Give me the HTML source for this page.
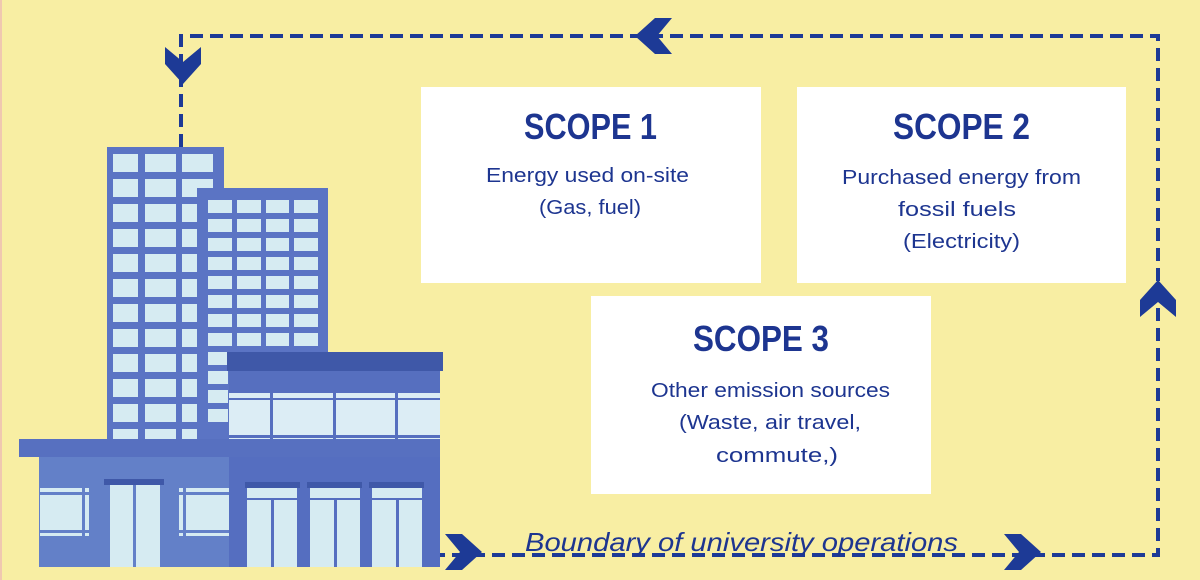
<!DOCTYPE html>
<html><head><meta charset="utf-8"><style>
html,body{margin:0;padding:0;background:#f8eea3;}
svg{display:block}
.t{font-family:"Liberation Sans",sans-serif;font-weight:bold;font-size:36px;fill:#1d3590}
.b{font-family:"Liberation Sans",sans-serif;font-size:20px;fill:#1d3590}
</style></head><body>
<svg width="1200" height="580" viewBox="0 0 1200 580" xmlns="http://www.w3.org/2000/svg">
<defs>
<polygon id="chev" points="-20,-18 -3,-18 17,0 -3,18 -20,18 -5,0"/>
</defs>
<rect width="1200" height="580" fill="#f8eea3"/>
<rect x="0" y="0" width="2" height="580" fill="#f0c8b0"/>
<g stroke="#1d3a96" stroke-width="4" fill="none" stroke-dasharray="13,7">
<path d="M181,147 V36 H1158 V555 H440"/>
</g>
<g fill="#1d3a96">
<use href="#chev" transform="translate(183,67) rotate(90)"/>
<use href="#chev" transform="translate(652,36) rotate(180)"/>
<use href="#chev" transform="translate(1158,297) rotate(-90)"/>
<use href="#chev" transform="translate(465,552)"/>
<use href="#chev" transform="translate(1024,552)"/>
</g>
<text x="525" y="551" font-family="Liberation Sans,sans-serif" font-style="italic" font-size="26" fill="#1d3590" textLength="433" lengthAdjust="spacingAndGlyphs">Boundary of university operations</text>
<rect x="421" y="87" width="340" height="196" fill="#fff"/>
<rect x="797" y="87" width="329" height="196" fill="#fff"/>
<rect x="591" y="296" width="340" height="198" fill="#fff"/>
<text class="t" x="524" y="139" textLength="133" lengthAdjust="spacingAndGlyphs">SCOPE 1</text>
<text class="b" x="486" y="182" textLength="203" lengthAdjust="spacingAndGlyphs">Energy used on-site</text>
<text class="b" x="539" y="214" textLength="102" lengthAdjust="spacingAndGlyphs">(Gas, fuel)</text>
<text class="t" x="893" y="139" textLength="137" lengthAdjust="spacingAndGlyphs">SCOPE 2</text>
<text class="b" x="842" y="184" textLength="239" lengthAdjust="spacingAndGlyphs">Purchased energy from</text>
<text class="b" x="898" y="216" textLength="118" lengthAdjust="spacingAndGlyphs">fossil fuels</text>
<text class="b" x="903" y="248" textLength="117" lengthAdjust="spacingAndGlyphs">(Electricity)</text>
<text class="t" x="693" y="351" textLength="136" lengthAdjust="spacingAndGlyphs">SCOPE 3</text>
<text class="b" x="651" y="397" textLength="239" lengthAdjust="spacingAndGlyphs">Other emission sources</text>
<text class="b" x="679" y="429" textLength="182" lengthAdjust="spacingAndGlyphs">(Waste, air travel,</text>
<text class="b" x="716" y="462" textLength="122" lengthAdjust="spacingAndGlyphs">commute,)</text>
<g>
<rect x="107" y="147" width="117" height="295" fill="#5b74c4"/>
<g fill="#d6ebf2">
<rect x="113" y="154" width="25" height="18"/><rect x="145" y="154" width="31" height="18"/><rect x="182" y="154" width="31" height="18"/>
<rect x="113" y="179" width="25" height="18"/><rect x="145" y="179" width="31" height="18"/><rect x="182" y="179" width="31" height="18"/>
<rect x="113" y="204" width="25" height="18"/><rect x="145" y="204" width="31" height="18"/><rect x="182" y="204" width="31" height="18"/>
<rect x="113" y="229" width="25" height="18"/><rect x="145" y="229" width="31" height="18"/><rect x="182" y="229" width="31" height="18"/>
<rect x="113" y="254" width="25" height="18"/><rect x="145" y="254" width="31" height="18"/><rect x="182" y="254" width="31" height="18"/>
<rect x="113" y="279" width="25" height="18"/><rect x="145" y="279" width="31" height="18"/><rect x="182" y="279" width="31" height="18"/>
<rect x="113" y="304" width="25" height="18"/><rect x="145" y="304" width="31" height="18"/><rect x="182" y="304" width="31" height="18"/>
<rect x="113" y="329" width="25" height="18"/><rect x="145" y="329" width="31" height="18"/><rect x="182" y="329" width="31" height="18"/>
<rect x="113" y="354" width="25" height="18"/><rect x="145" y="354" width="31" height="18"/><rect x="182" y="354" width="31" height="18"/>
<rect x="113" y="379" width="25" height="18"/><rect x="145" y="379" width="31" height="18"/><rect x="182" y="379" width="31" height="18"/>
<rect x="113" y="404" width="25" height="18"/><rect x="145" y="404" width="31" height="18"/><rect x="182" y="404" width="31" height="18"/>
<rect x="113" y="429" width="25" height="10"/><rect x="145" y="429" width="31" height="10"/><rect x="182" y="429" width="31" height="10"/>
</g>
<rect x="197" y="188" width="131" height="255" fill="#5b74c4"/>
<g fill="#d6ebf2">
<rect x="208" y="200" width="24" height="13"/><rect x="237" y="200" width="24" height="13"/><rect x="266" y="200" width="23" height="13"/><rect x="294" y="200" width="24" height="13"/>
<rect x="208" y="219" width="24" height="13"/><rect x="237" y="219" width="24" height="13"/><rect x="266" y="219" width="23" height="13"/><rect x="294" y="219" width="24" height="13"/>
<rect x="208" y="238" width="24" height="13"/><rect x="237" y="238" width="24" height="13"/><rect x="266" y="238" width="23" height="13"/><rect x="294" y="238" width="24" height="13"/>
<rect x="208" y="257" width="24" height="13"/><rect x="237" y="257" width="24" height="13"/><rect x="266" y="257" width="23" height="13"/><rect x="294" y="257" width="24" height="13"/>
<rect x="208" y="276" width="24" height="13"/><rect x="237" y="276" width="24" height="13"/><rect x="266" y="276" width="23" height="13"/><rect x="294" y="276" width="24" height="13"/>
<rect x="208" y="295" width="24" height="13"/><rect x="237" y="295" width="24" height="13"/><rect x="266" y="295" width="23" height="13"/><rect x="294" y="295" width="24" height="13"/>
<rect x="208" y="314" width="24" height="13"/><rect x="237" y="314" width="24" height="13"/><rect x="266" y="314" width="23" height="13"/><rect x="294" y="314" width="24" height="13"/>
<rect x="208" y="333" width="24" height="13"/><rect x="237" y="333" width="24" height="13"/><rect x="266" y="333" width="23" height="13"/><rect x="294" y="333" width="24" height="13"/>
<rect x="208" y="352" width="20" height="13"/><rect x="208" y="371" width="20" height="13"/><rect x="208" y="390" width="20" height="13"/><rect x="208" y="409" width="20" height="13"/>
</g>
<rect x="227" y="352" width="216" height="19" fill="#3f58a8"/>
<rect x="229" y="371" width="211" height="70" fill="#566fbf"/>
<rect x="229" y="393" width="211" height="47" fill="#dcedf5"/>
<g fill="#566fbf">
<rect x="229" y="398" width="211" height="2"/><rect x="229" y="435" width="211" height="3"/>
<rect x="270" y="393" width="3" height="47"/><rect x="333" y="393" width="3" height="47"/><rect x="395" y="393" width="3" height="47"/>
</g>
<rect x="19" y="439" width="421" height="18" fill="#5770c0"/>
<rect x="39" y="457" width="191" height="110" fill="#6380c8"/>
<rect x="229" y="457" width="211" height="110" fill="#556ec0"/>
<g fill="#d6ebf2">
<rect x="40" y="488" width="49" height="48"/>
<rect x="110" y="485" width="50" height="82"/>
<rect x="179" y="488" width="50" height="48"/>
<rect x="247" y="487" width="50" height="80"/>
<rect x="310" y="487" width="50" height="80"/>
<rect x="372" y="487" width="50" height="80"/>
</g>
<g fill="#6380c8">
<rect x="40" y="492" width="49" height="3"/><rect x="40" y="530" width="49" height="3"/><rect x="82" y="488" width="3" height="48"/>
<rect x="179" y="492" width="50" height="3"/><rect x="179" y="530" width="50" height="3"/><rect x="183" y="488" width="3" height="48"/>
<rect x="133" y="485" width="3" height="82"/>
</g>
<g fill="#556ec0">
<rect x="271" y="500" width="3" height="67"/><rect x="334" y="500" width="3" height="67"/><rect x="396" y="500" width="3" height="67"/>
<rect x="247" y="498" width="50" height="2"/><rect x="310" y="498" width="50" height="2"/><rect x="372" y="498" width="50" height="2"/>
</g>
<g fill="#3f58a8">
<rect x="104" y="479" width="60" height="6"/>
<rect x="245" y="482" width="55" height="6"/><rect x="307" y="482" width="55" height="6"/><rect x="369" y="482" width="55" height="6"/>
</g>
</g>
</svg>
</body></html>
